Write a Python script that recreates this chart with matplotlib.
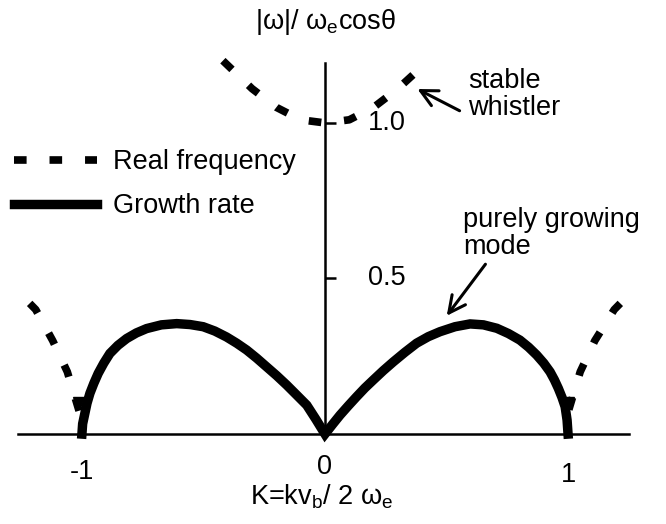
"""
Whistler / purely growing mode dispersion sketch.
"""

import matplotlib
matplotlib.use("Agg")
import matplotlib.pyplot as plt

plt.rcParams['font.family'] = ['Liberation Sans', 'DejaVu Sans']

# growth rate, K from -1 to 1 (both lobes, one stroke)
k_growth = [-1.0, -0.997, -0.988, -0.979, -0.967, -0.951, -0.933, -0.91, -0.885,
            -0.852, -0.816, -0.776, -0.734, -0.673, -0.61, -0.555, -0.501, -0.453,
            -0.405, -0.363, -0.322, -0.281, -0.24, -0.199, -0.158, -0.117, -0.075,
            -0.037, 0.0,
            0.031, 0.062, 0.096, 0.13, 0.164, 0.199, 0.24, 0.281, 0.329, 0.377,
            0.425, 0.473, 0.535, 0.597, 0.652, 0.707, 0.755, 0.802, 0.838, 0.871,
            0.9, 0.926, 0.944, 0.96, 0.975, 0.988, 0.996, 1.0]
g_growth = [0.0, 0.033, 0.066, 0.099, 0.131, 0.163, 0.195, 0.228, 0.259,
            0.285, 0.307, 0.325, 0.339, 0.351, 0.355, 0.352, 0.345, 0.331,
            0.312, 0.292, 0.27, 0.244, 0.216, 0.188, 0.158, 0.126, 0.093,
            0.047, 0.0,
            0.031, 0.061, 0.091, 0.12, 0.148, 0.174, 0.204, 0.232, 0.263, 0.292,
            0.313, 0.329, 0.345, 0.354, 0.351, 0.34, 0.323, 0.302, 0.279, 0.254,
            0.228, 0.2, 0.174, 0.147, 0.118, 0.088, 0.045, 0.0]

# real frequency of the stable whistler, near K = 0
k_whistler = [-0.42, -0.3, -0.2, -0.1, 0.0, 0.1, 0.2, 0.3, 0.37]
w_whistler = [1.2, 1.11, 1.05, 1.01, 1.0, 1.01, 1.05, 1.11, 1.16]

# real frequency beyond |K| = 1 (drawn from the top down)
k_out_left = [-1.215, -1.19, -1.12, -1.06, -1.01]
w_out_left = [0.42, 0.40, 0.30, 0.20, 0.07]
k_out_right = [1.215, 1.19, 1.11, 1.05, 1.0]
w_out_right = [0.42, 0.40, 0.30, 0.20, 0.07]

x_ticks = [-1, 0, 1]
x_ticklabels = ['-1', '0', '1']
x_label_y = [-0.122, -0.105, -0.132]
y_ticks = [0.5, 1.0]
y_ticklabels = ['0.5', '1.0']

FS = 19.5
DASH = (0, (1.65, 3.0))

fig = plt.figure(figsize=(6.66, 5.24), dpi=100)
ax = fig.add_axes([0, 0, 1, 1])
ax.set_xlim(-1.337, 1.403)
ax.set_ylim(-0.289, 1.395)

ax.plot(k_whistler, w_whistler, color='black', lw=5.5, ls=DASH,
        label='Real frequency')
ax.plot(k_out_left, w_out_left, color='black', lw=5.5, ls=DASH)
ax.plot(k_out_right, w_out_right, color='black', lw=5.5, ls=DASH)
ax.plot([k_out_left[-1], k_out_right[-1]], [w_out_left[-1] + 0.03, w_out_right[-1] + 0.03],
        ls='none', marker='v', ms=9, color='black')
ax.plot(k_growth, g_growth, color='black', lw=6.8, solid_joinstyle='miter',
        label='Growth rate')

# axes through the origin
for s in ['top', 'right']:
    ax.spines[s].set_visible(False)
ax.spines['left'].set_position(('data', 0))
ax.spines['bottom'].set_position(('data', 0))
ax.spines['left'].set_bounds(0, 1.193)
ax.spines['bottom'].set_bounds(-1.263, 1.251)
ax.spines['left'].set_linewidth(1.8)
ax.spines['bottom'].set_linewidth(1.8)
ax.set_xticks([])
ax.set_yticks(y_ticks)
ax.set_yticklabels([])
ax.tick_params(axis='y', direction='in', length=8, width=1.8)

for t, lab in zip(y_ticks, y_ticklabels):
    ax.text(0.177, t, lab, fontsize=FS, ha='left', va='center')
for t, lab, yy in zip(x_ticks, x_ticklabels, x_label_y):
    ax.text(t, yy, lab, fontsize=FS, ha='center', va='center')

ax.text(0.0, 1.302, '|ω|/ ω$_\\mathregular{e}$cosθ', fontsize=FS,
        ha='center', va='baseline')
ax.text(-0.014, -0.226, 'K=kv$_\\mathregular{b}$/ 2 ω$_\\mathregular{e}$',
        fontsize=FS, ha='center', va='baseline')

# annotations
ax.text(0.588, 1.09, 'stable\nwhistler', fontsize=FS, ha='left', va='center',
        linespacing=1.05)
ax.annotate('', xy=(0.37, 1.113), xytext=(0.564, 1.035),
            arrowprops=dict(arrowstyle='->', lw=2.2, color='black', mutation_scale=30))
ax.text(0.568, 0.643, 'purely growing\nmode', fontsize=FS, ha='left',
        va='center', linespacing=1.05)
ax.annotate('', xy=(0.494, 0.373), xytext=(0.667, 0.553),
            arrowprops=dict(arrowstyle='->', lw=2.2, color='black', mutation_scale=30))

ax.legend(loc='upper left', bbox_to_anchor=(14 / 666, 1 - 149 / 524),
          frameon=False, fontsize=FS, handlelength=3.07, handletextpad=0.6,
          labelspacing=0.67, borderpad=0, borderaxespad=0)

fig.savefig('out.png', dpi=100)
